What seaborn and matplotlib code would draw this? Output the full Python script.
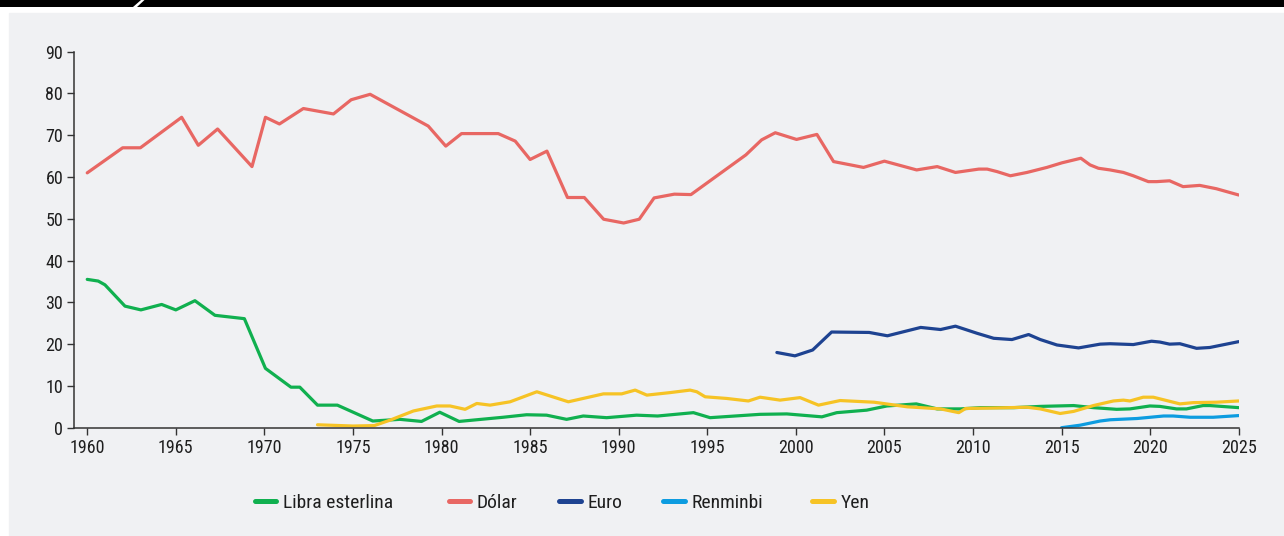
import numpy as np
import pandas as pd
import matplotlib
matplotlib.use("Agg")
import matplotlib.pyplot as plt
from matplotlib.patches import Rectangle
from matplotlib.lines import Line2D
import seaborn as sns

# ── Data (share of world reserves, %) ─────────────────────────────────────────

libra_x = [1960, 1960.62, 1961.0, 1962.13, 1963.03, 1964.2, 1965.0, 1966.08, 1967.21,
           1968.87, 1970.06, 1971.5, 1972.0, 1973.0, 1974.12, 1976.12, 1977.65, 1978.87,
           1979.9, 1980.99, 1983.48, 1984.8, 1985.93, 1987.06, 1988.0, 1989.32, 1991.01,
           1992.2, 1994.22, 1995.16, 1997.98, 1999.49, 2001.47, 2002.31, 2004.0, 2005.14,
           2006.8, 2007.98, 2009.3, 2010.42, 2012.3, 2013.8, 2015.68, 2016.8, 2018.11,
           2018.86, 2019.99, 2020.55, 2021.49, 2022.05, 2022.99, 2023.37, 2025.0]
libra_y = [35.5, 35.1, 34.2, 29.1, 28.2, 29.5, 28.2, 30.4, 26.9,
           26.1, 14.2, 9.7, 9.7, 5.4, 5.4, 1.6, 2.0, 1.5,
           3.7, 1.5, 2.5, 3.1, 3.0, 2.0, 2.8, 2.4, 3.0,
           2.8, 3.6, 2.4, 3.2, 3.3, 2.6, 3.6, 4.2, 5.2,
           5.7, 4.5, 4.5, 4.8, 4.8, 5.1, 5.3, 4.8, 4.4,
           4.5, 5.2, 5.1, 4.5, 4.5, 5.3, 5.3, 4.8]

dolar_x = [1960, 1962, 1963, 1965.33, 1966.27, 1967.36, 1969.3, 1970.06, 1970.85,
           1972.2, 1973.9, 1974.9, 1975.97, 1979.25, 1980.24, 1981.13, 1983.2, 1984.16,
           1985.0, 1985.95, 1987.11, 1988.06, 1989.15, 1990.28, 1991.16, 1992.0, 1993.14,
           1994.08, 1997.18, 1998.07, 1998.84, 2000.04, 2001.19, 2002.13, 2003.82, 2005.0,
           2006.82, 2007.98, 2009.01, 2010.33, 2010.8, 2011.36, 2012.11, 2013.05, 2014.17,
           2015.02, 2016.09, 2016.61, 2017.08, 2017.74, 2018.49, 2019.05, 2019.9, 2020.37,
           2021.1, 2021.86, 2022.8, 2023.74, 2025.0]
dolar_y = [61.0, 67.0, 67.0, 74.3, 67.6, 71.5, 62.5, 74.3, 72.7,
           76.4, 75.1, 78.5, 79.8, 72.2, 67.4, 70.4, 70.4, 68.6,
           64.2, 66.2, 55.1, 55.1, 49.9, 49.0, 49.9, 55.0, 55.9,
           55.8, 65.3, 68.9, 70.6, 69.0, 70.2, 63.7, 62.3, 63.8,
           61.7, 62.5, 61.1, 61.9, 61.9, 61.3, 60.3, 61.1, 62.3,
           63.4, 64.5, 62.9, 62.1, 61.7, 61.1, 60.3, 58.9, 58.9,
           59.1, 57.7, 58.0, 57.2, 55.7]

euro_x = [1998.93, 1999.95, 2000.95, 2002.02, 2004.14, 2005.17, 2007.05, 2008.17, 2009.01,
          2010.23, 2011.17, 2012.2, 2013.14, 2013.8, 2014.74, 2015.96, 2017.18, 2017.74,
          2019.05, 2020.08, 2020.55, 2021.1, 2021.68, 2022.62, 2023.37, 2025.0]
euro_y = [18.0, 17.2, 18.6, 22.9, 22.8, 22.0, 24.0, 23.5, 24.3,
          22.6, 21.4, 21.1, 22.3, 21.1, 19.8, 19.1, 20.0, 20.1,
          19.9, 20.7, 20.5, 20.0, 20.1, 19.0, 19.2, 20.6]

renminbi_x = [2015.0, 2016.05, 2017.18, 2017.75, 2019.26, 2020.76, 2021.3, 2022.26, 2023.56, 2025.0]
renminbi_y = [0.0, 0.6, 1.6, 1.9, 2.2, 2.8, 2.8, 2.5, 2.5, 2.9]

yen_x = [1973.0, 1975.0, 1976.2, 1977.09, 1978.41, 1979.73, 1980.48, 1981.33, 1981.99,
         1982.74, 1983.87, 1985.38, 1987.16, 1989.14, 1990.17, 1990.93, 1991.59, 1992.9,
         1994.03, 1994.41, 1994.88, 1996.1, 1997.32, 1997.98, 1999.11, 2000.24, 2001.28,
         2002.5, 2004.42, 2006.29, 2008.17, 2009.2, 2009.58, 2010.99, 2013.05, 2013.8,
         2014.92, 2015.68, 2016.8, 2017.93, 2018.49, 2018.86, 2019.61, 2020.18, 2020.93,
         2021.68, 2022.43, 2023.74, 2025.0]
yen_y = [0.7, 0.4, 0.5, 1.8, 4.0, 5.2, 5.2, 4.4, 5.8,
         5.4, 6.2, 8.6, 6.2, 8.1, 8.1, 9.0, 7.8, 8.4,
         9.0, 8.6, 7.4, 7.0, 6.4, 7.3, 6.6, 7.2, 5.4,
         6.5, 6.1, 5.0, 4.5, 3.6, 4.6, 4.7, 4.9, 4.5,
         3.4, 3.9, 5.3, 6.4, 6.6, 6.4, 7.3, 7.3, 6.5,
         5.7, 6.0, 6.1, 6.4]

currencies = ["Libra esterlina", "Dólar", "Euro", "Renminbi", "Yen"]
x_ticks = list(range(1960, 2030, 5))
y_ticks = list(range(0, 100, 10))

palette = {
    "Libra esterlina": "#10b04f",
    "Dólar": "#e86763",
    "Euro": "#1e4391",
    "Renminbi": "#0d9ce0",
    "Yen": "#f6c325",
}

series = {
    "Libra esterlina": (libra_x, libra_y),
    "Dólar": (dolar_x, dolar_y),
    "Euro": (euro_x, euro_y),
    "Renminbi": (renminbi_x, renminbi_y),
    "Yen": (yen_x, yen_y),
}
df = pd.concat(
    [pd.DataFrame({"year": xs, "share": ys, "currency": name})
     for name, (xs, ys) in series.items()],
    ignore_index=True,
)

# ── Figure ────────────────────────────────────────────────────────────────────

sns.set_style("white")
plt.rcParams["font.family"] = ["Roboto Condensed", "Liberation Sans Narrow",
                               "DejaVu Sans"]
plt.rcParams["font.stretch"] = "condensed"
TEXT = "#1e1e1e"

fig = plt.figure(figsize=(12.84, 5.36), dpi=100)
W, H = 1284, 536

# grey panel behind the chart
fig.patches.append(Rectangle((9 / W, 0), 1 - 9 / W, 1 - 13 / H,
                             transform=fig.transFigure, color="#f0f1f3", zorder=-3))

# black header strip with a white slash, in its own pixel-unit axes
head = fig.add_axes([0, 1 - 7 / H, 1, 7 / H])
head.set_xlim(0, W)
head.set_ylim(0, 7)
head.set_facecolor("black")
for s in head.spines.values():
    s.set_visible(False)
head.set_xticks([])
head.set_yticks([])
head.fill([133, 137, 144.5, 141], [0, 0, 7, 7], color="white", lw=0)

ax = fig.add_axes([74.3 / W, 1 - 427.7 / H, (1238.7 - 74.3) / W, (427.7 - 51.7) / H])
ax.set_facecolor("none")
ax.set_zorder(1)

for name in currencies:
    sns.lineplot(
        data=df[df["currency"] == name], x="year", y="share",
        color=palette[name], linewidth=2.3, estimator=None, sort=True,
        ax=ax, legend=False, solid_joinstyle="round", solid_capstyle="round",
    )

ax.set_xlim(1959.27, 2025)
ax.set_ylim(0, 90)
ax.set_xticks(x_ticks)
ax.set_yticks(y_ticks)
ax.set_xlabel("")
ax.set_ylabel("")
for side in ["top", "right"]:
    ax.spines[side].set_visible(False)
for side in ["left", "bottom"]:
    ax.spines[side].set_color("#333333")
    ax.spines[side].set_linewidth(1.1)
ax.tick_params(axis="both", direction="out", length=5, width=1.0, color="#333333",
               labelsize=13, labelcolor=TEXT, pad=3, left=True, bottom=True)

# legend: one entry per item so each sits where the original puts it
legend_px = [254.5, 448.5, 559, 663, 812.5]
for name, px in zip(currencies, legend_px):
    h = Line2D([0], [0], color=palette[name], linewidth=3.6, solid_capstyle="round")
    fig.legend([h], [name], loc="center left", bbox_to_anchor=(px / W, 1 - 503 / H),
               frameon=False, fontsize=14, handlelength=1.13, handletextpad=0.33,
               borderpad=0, borderaxespad=0, labelcolor=TEXT)

fig.savefig("out.png", dpi=100)
